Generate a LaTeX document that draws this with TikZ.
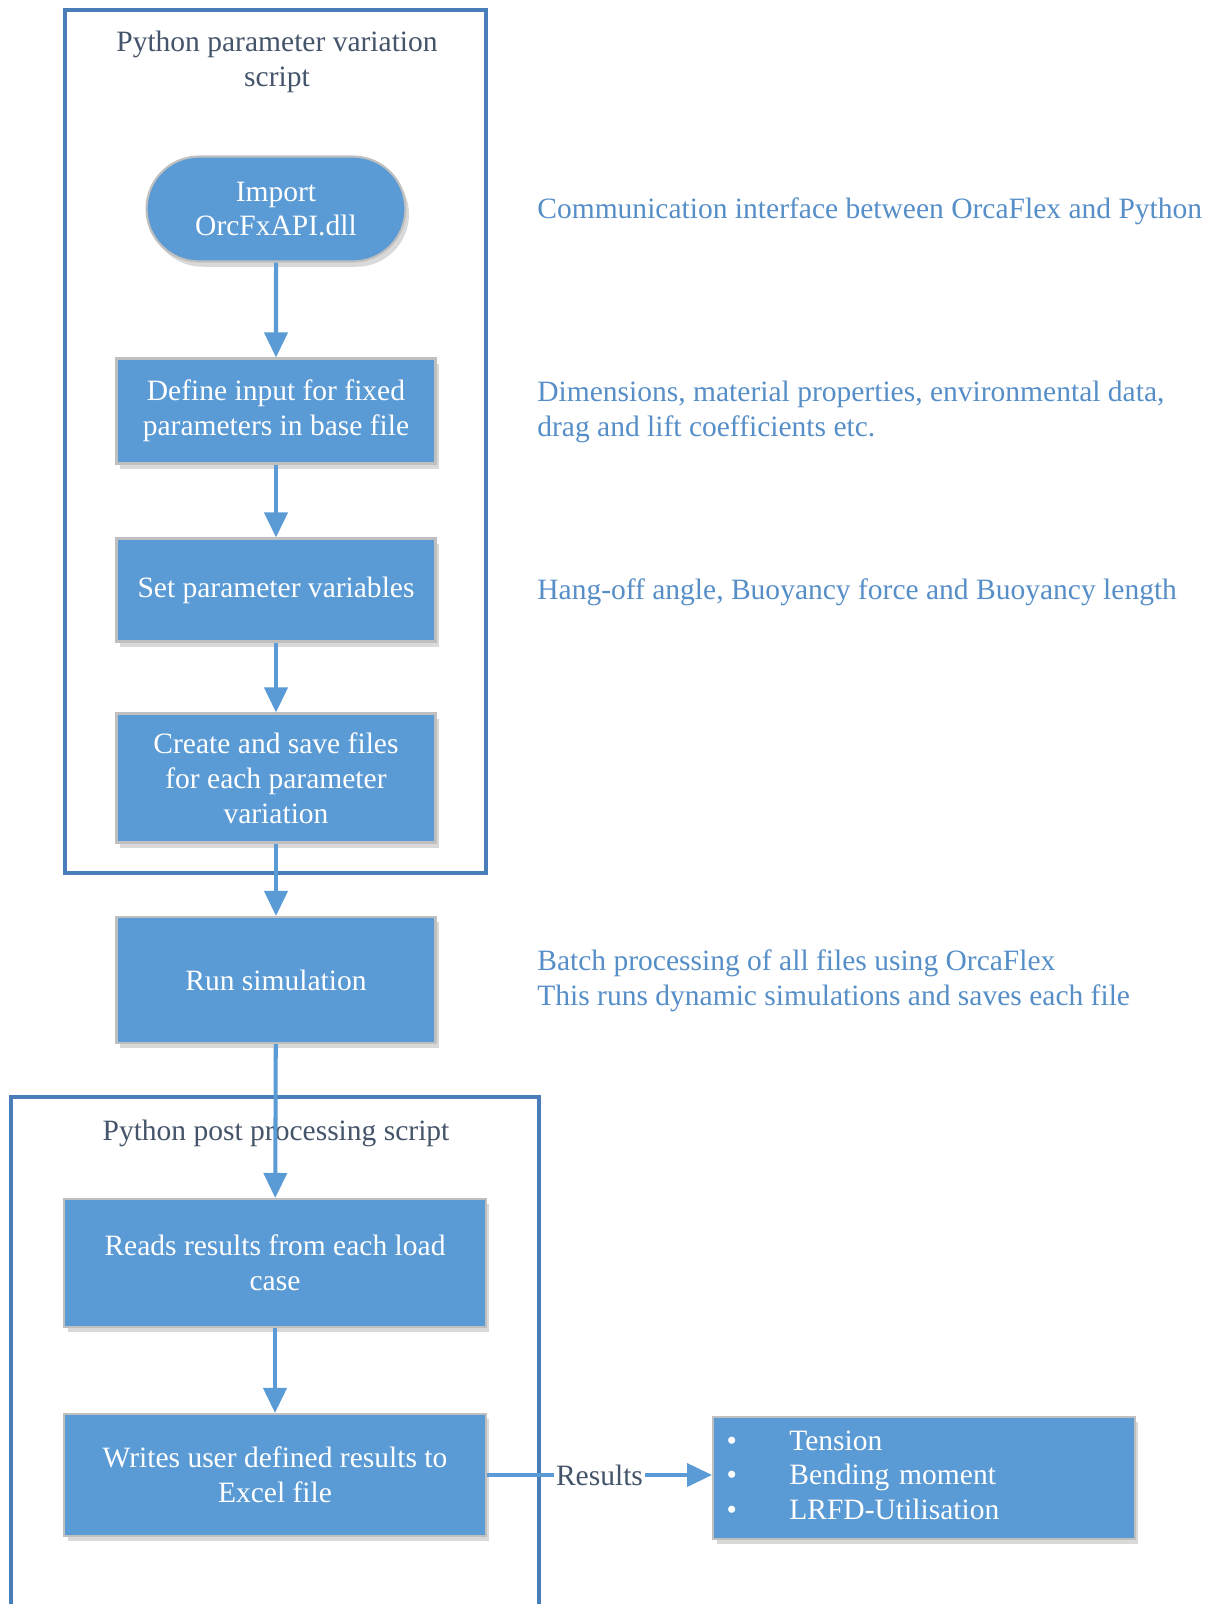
\documentclass[tikz,border=0pt]{standalone}
\usepackage{fontspec}
\setmainfont{Liberation Serif}
\usepackage{xcolor}
\definecolor{boxblue}{RGB}{91,155,213}
\definecolor{frameblue}{RGB}{74,126,187}
\definecolor{noteblue}{RGB}{86,142,200}
\definecolor{titlegray}{RGB}{68,84,106}
\definecolor{edgegray}{RGB}{191,191,191}
\usetikzlibrary{shapes.misc, arrows.meta, positioning, shadows}

\tikzset{
  basefont/.style={font=\fontsize{16.8}{19.8}\selectfont},
  procbox/.style={basefont, draw=edgegray, line width=1.2pt, fill=boxblue,
    text=white, align=center, inner sep=2pt,
    minimum width=6.38cm, minimum height=2.1cm,
    drop shadow={shadow xshift=2pt, shadow yshift=-3pt, opacity=0.15, fill=black}},
  termbox/.style={procbox, rounded rectangle, minimum width=5.32cm},
  framebox/.style={draw=frameblue, line width=2.3pt},
  flowarrow/.style={draw=boxblue, line width=2.3pt,
    -{Triangle[width=0.46cm, length=0.5cm]}},
  notetext/.style={basefont, text=noteblue, align=left, anchor=west, inner sep=0pt},
  frametitle/.style={basefont, text=titlegray, align=center},
}

\begin{document}
\begin{tikzpicture}[x=0.02cm, y=-0.02cm]
  \useasboundingbox (0,0) rectangle (1218,1604);

  % frames round the two scripts
  \draw[framebox] (65,10) rectangle (486,873);
  \draw[framebox] (11,1615) |- (539,1097) -- (539,1615);
  \node[frametitle] (vartitle) at (277,62) {Python parameter variation\\script};
  \node[frametitle] (posttitle) at (276,1133) {Python post processing script};

  % flow
  \node[termbox] (import) at (276,209) {Import\\OrcFxAPI.dll};
  \node[procbox] (define) at (276,411) {Define input for fixed\\parameters in base file};
  \node[procbox, minimum height=2.06cm] (setpar) at (276,590) {Set parameter variables};
  \node[procbox, minimum height=2.58cm] (create) at (276,778) {Create and save files\\for each parameter\\variation};
  \node[procbox, minimum height=2.52cm] (runsim) at (276,980) {Run simulation};
  \node[procbox, minimum width=8.44cm, minimum height=2.56cm] (reads) at (275,1263) {Reads results from each load\\case};
  \node[procbox, minimum width=8.44cm, minimum height=2.44cm] (writes) at (275,1475) {Writes user defined results to\\Excel file};
  \node[procbox, minimum width=8.44cm, minimum height=2.44cm, text width=7.9cm, align=left] (results) at (924,1478) {%
    \begin{tabular}{@{}l@{\hspace{1.05cm}}l@{}}
      \textbullet & Tension\\
      \textbullet & Bending moment\\
      \textbullet & LRFD-Utilisation
    \end{tabular}};

  % notes on the right
  \node[notetext] (note1) at (537,211) {Communication interface between OrcaFlex and Python};
  \node[notetext] (note2) at (537,412) {Dimensions, material properties, environmental data,\\drag and lift coefficients etc.};
  \node[notetext] (note3) at (537,592) {Hang-off angle, Buoyancy force and Buoyancy length};
  \node[notetext] (note4) at (537,981) {Batch processing of all files using OrcaFlex\\This runs dynamic simulations and saves each file};

  % connectors
  \draw[flowarrow] (import) -- (define);
  \draw[flowarrow] (define) -- (setpar);
  \draw[flowarrow] (setpar) -- (create);
  \draw[flowarrow] (create) -- (runsim);
  \draw[flowarrow] (runsim) -- (reads);
  \draw[flowarrow] (reads) -- (writes);
  \draw[flowarrow] (writes) -- node[basefont, fill=white, text=titlegray, inner sep=1pt] (reslabel) {Results} (writes -| results.west);
\end{tikzpicture}
\end{document}
